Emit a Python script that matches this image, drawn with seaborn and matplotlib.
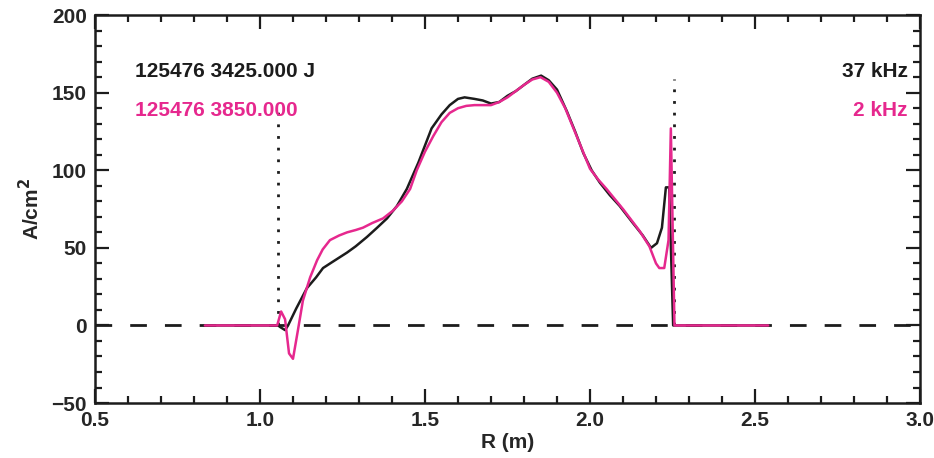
import numpy as np
import pandas as pd
import matplotlib
matplotlib.use("Agg")
import matplotlib.pyplot as plt
import seaborn as sns
from matplotlib.ticker import MultipleLocator

# --- data ---
r_black = [0.833, 1.00, 1.055, 1.061, 1.076, 1.085, 1.11, 1.142, 1.17, 1.191, 1.22, 1.264, 1.29,
           1.324, 1.355, 1.385, 1.415, 1.445, 1.48, 1.50, 1.52, 1.55, 1.575, 1.60, 1.62, 1.65,
           1.675, 1.70, 1.725, 1.75, 1.775, 1.80, 1.825, 1.852, 1.875, 1.90, 1.93, 1.955,
           1.98, 2.005, 2.03, 2.06, 2.09, 2.13, 2.16, 2.185, 2.203, 2.218, 2.23, 2.24, 2.252,
           2.40, 2.54]
j_black = [0, 0, 0, -1, -3, 0, 11, 24, 31, 37, 41, 47, 51,
           57, 63, 69, 77, 88, 105, 116, 127, 136, 142, 146, 147, 146,
           145, 143, 144, 148, 151, 155, 159, 161, 158, 152, 138, 125,
           111, 100, 92, 84, 77, 66, 58, 50, 53, 63, 89, 89, 0,
           0, 0]

r_pink = [0.833, 1.00, 1.052, 1.064, 1.076, 1.088, 1.10, 1.115, 1.13, 1.152, 1.173, 1.19, 1.212,
          1.24, 1.264, 1.29, 1.312, 1.34, 1.373, 1.403, 1.43, 1.455, 1.475, 1.50, 1.525, 1.55,
          1.575, 1.60, 1.625, 1.65, 1.675, 1.70, 1.725, 1.75, 1.775, 1.80, 1.825, 1.85, 1.875,
          1.90, 1.925, 1.95, 1.975, 2.00, 2.025, 2.05, 2.10, 2.15, 2.18, 2.20, 2.21, 2.225,
          2.238, 2.245, 2.256, 2.40, 2.54]
j_pink = [0, 0, 0, 9, 4, -18, -21.5, -3, 16, 31, 42, 49, 55,
          58, 60, 61.5, 63, 66, 69, 74, 80, 88, 100, 112, 122, 131,
          137, 140, 141.5, 142, 142, 142, 144, 147, 151, 155, 158.5, 160, 157,
          150, 140, 127, 114, 101, 94, 88, 75, 61, 51, 40, 37, 37,
          55, 127, 0, 0, 0]

separatrix_r = [1.0545, 2.2545]
separatrix_top = [142, 159]

xticks = [0.5, 1.0, 1.5, 2.0, 2.5, 3.0]
xtick_labels = ["0.5", "1.0", "1.5", "2.0", "2.5", "3.0"]
yticks = [-50, 0, 50, 100, 150, 200]
ytick_labels = ["\u221250", "0", "50", "100", "150", "200"]

label_black = "125476 3425.000 J"
label_pink = "125476 3850.000"
freq_black = "37 kHz"
freq_pink = "2 kHz"

BLACK = "#1c1c1c"
PINK = "#e6288e"

sns.set_style("ticks")
plt.rcParams["font.family"] = ["Liberation Sans", "DejaVu Sans"]
plt.rcParams["font.weight"] = "bold"

fig = plt.figure(figsize=(9.34, 4.58), dpi=100)
ax = fig.add_axes([0.1017, 0.120, 0.8833, 0.847])

df_b = pd.DataFrame({"R": r_black, "J": j_black})
df_p = pd.DataFrame({"R": r_pink, "J": j_pink})

ax.axhline(0, color=BLACK, lw=2.0, dashes=(6, 6.5), zorder=1)
for xr, top in zip(separatrix_r, separatrix_top):
    ax.plot([xr, xr], [0, top], color=BLACK, lw=2.0, linestyle=(0, (1, 3.2)), zorder=1)

sns.lineplot(data=df_b, x="R", y="J", sort=False, color=BLACK, lw=1.8, ax=ax, zorder=3)
sns.lineplot(data=df_p, x="R", y="J", sort=False, color=PINK, lw=1.8, ax=ax, zorder=4)

ax.set_xlim(0.5, 3.0)
ax.set_ylim(-50, 200)
ax.set_xticks(xticks)
ax.set_xticklabels(xtick_labels)
ax.set_yticks(yticks)
ax.set_yticklabels(ytick_labels)
ax.xaxis.set_minor_locator(MultipleLocator(0.1))
ax.yaxis.set_minor_locator(MultipleLocator(10))
ax.tick_params(which="both", direction="in", top=True, right=True, width=1.6, color=BLACK,
               labelsize=15, pad=6)
ax.tick_params(which="major", length=10)
ax.tick_params(which="minor", length=5)
for s in ax.spines.values():
    s.set_linewidth(1.8)
    s.set_color(BLACK)
    s.set_visible(True)

ax.set_xlabel("R (m)", fontsize=15, fontweight="bold", labelpad=2)
ax.set_ylabel("A/cm$^\\mathbf{2}$", fontsize=15, fontweight="bold", labelpad=6)

ax.text(0.049, 0.855, label_black, transform=ax.transAxes, color=BLACK, fontsize=15,
        fontweight="bold", va="center", ha="left")
ax.text(0.049, 0.755, label_pink, transform=ax.transAxes, color=PINK, fontsize=15,
        fontweight="bold", va="center", ha="left")
ax.text(0.985, 0.855, freq_black, transform=ax.transAxes, color=BLACK, fontsize=15,
        fontweight="bold", va="center", ha="right")
ax.text(0.985, 0.755, freq_pink, transform=ax.transAxes, color=PINK, fontsize=15,
        fontweight="bold", va="center", ha="right")

fig.savefig("out.png", dpi=100)
